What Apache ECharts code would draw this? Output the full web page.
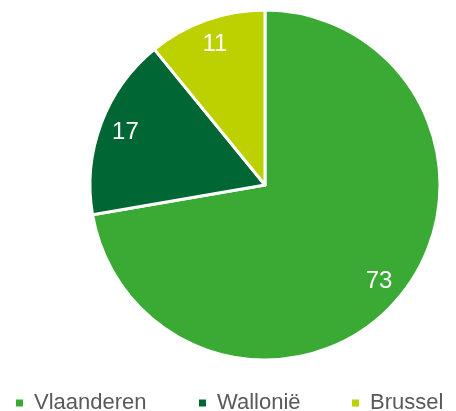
<!DOCTYPE html>
<html><head><meta charset="utf-8">
<script src="https://cdn.jsdelivr.net/npm/echarts@6/dist/echarts.min.js"></script>
<style>html,body{margin:0;padding:0;background:#fff}#c{width:456px;height:411px}</style>
</head><body><div id="c"></div>
<script>
const categories = ['Vlaanderen', 'Wallonië', 'Brussel'];
const values = [73, 17, 11];
const colors = ['#3aaa35', '#006633', '#bdd000'];

const FONT = '"Liberation Sans", Arial, sans-serif';
const legendLefts = [14, 197, 350];
const data = categories.map((n, i) => ({ name: n, value: values[i], itemStyle: { color: colors[i] } }));
const legends = categories.map((n, i) => ({
  data: [n],
  left: legendLefts[i],
  top: 392,
  icon: 'rect',
  itemWidth: 9,
  itemHeight: 9,
  padding: 0,
  textStyle: { fontFamily: FONT, fontSize: 22, color: '#595959', padding: [0, 0, 11, 5] }
}));
const chart = echarts.init(document.getElementById('c'), null, { renderer: 'canvas' });
chart.setOption({
  animation: false,
  legend: legends,
  series: [
    {
      type: 'pie',
      center: [265, 185],
      radius: [0, 175],
      startAngle: 90,
      clockwise: true,
      silent: true,
      itemStyle: { borderColor: '#fff', borderWidth: 3 },
      label: { show: false },
      labelLine: { show: false },
      data: data
    },
    {
      type: 'pie',
      center: [265, 185],
      radius: [117, 175],
      startAngle: 90,
      clockwise: true,
      silent: true,
      itemStyle: { color: 'rgba(0,0,0,0)', borderWidth: 0 },
      label: { show: true, position: 'inside', formatter: '{c}', color: '#fff', fontSize: 24, fontFamily: FONT, padding: [7, 0, 0, 0] },
      labelLine: { show: false },
      data: categories.map((n, i) => ({ name: n, value: values[i] }))
    }
  ]
});
</script></body></html>
